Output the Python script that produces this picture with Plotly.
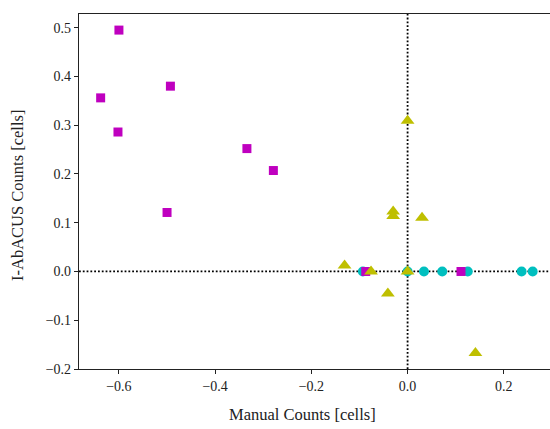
import plotly.graph_objects as go

# Magenta squares
sq_x = [-0.600, -0.638, -0.493, -0.602, -0.334, -0.279, -0.500, -0.087, 0.111]
sq_y = [0.495, 0.356, 0.380, 0.286, 0.252, 0.207, 0.121, 0.0, 0.0]

# Cyan circles
ci_x = [-0.093, 0.0, 0.034, 0.072, 0.125, 0.237, 0.260]
ci_y = [0.0, 0.0, 0.0, 0.0, 0.0, 0.0, 0.0]

# Yellow triangles
tr_x = [0.0, -0.030, -0.030, 0.030, -0.131, -0.076, 0.0, -0.041, 0.141]
tr_y = [0.309, 0.123, 0.114, 0.110, 0.012, 0.0, 0.0, -0.045, -0.167]

x_ticks = [-0.6, -0.4, -0.2, 0.0, 0.2]
y_ticks = [-0.2, -0.1, 0.0, 0.1, 0.2, 0.3, 0.4, 0.5]

x_title = "Manual Counts [cells]"
y_title = "I-AbACUS Counts [cells]"

fig = go.Figure()
fig.add_trace(go.Scatter(x=ci_x, y=ci_y, mode="markers",
                         marker=dict(symbol="circle", size=10, color="#00bfbf", line=dict(width=0))))
fig.add_trace(go.Scatter(x=sq_x, y=sq_y, mode="markers",
                         marker=dict(symbol="square", size=9, color="#bf00bf", line=dict(width=0))))
fig.add_trace(go.Scatter(x=tr_x, y=tr_y, mode="markers",
                         marker=dict(symbol="triangle-up", size=12, color="#bfbf00", line=dict(width=0))))

fig.add_hline(y=0, line=dict(color="black", width=1.8, dash="1.8px,2px"), layer="below")
fig.add_vline(x=0, line=dict(color="black", width=1.8, dash="1.8px,2px"), layer="below")

font = dict(family="Liberation Serif, Times New Roman, serif", color="#222")
W, H, L, R, T, B = 550, 429, 79, 0, 14, 60
pw, ph = W - L - R, H - T - B

fig.update_layout(
    width=W, height=H,
    margin=dict(l=L, r=R, t=T, b=B),
    paper_bgcolor="white", plot_bgcolor="white",
    showlegend=False,
    font=dict(size=14, **font),
    xaxis=dict(range=[-0.683, 0.296], tickvals=x_ticks, tickformat=".1f", automargin=False,
               showgrid=False, zeroline=False, showline=True, linecolor="#222", linewidth=1.2,
               mirror=True, ticks="outside", ticklen=4, tickcolor="#222"),
    yaxis=dict(range=[-0.2, 0.528], tickvals=y_ticks, tickformat=".1f", automargin=False,
               showgrid=False, zeroline=False, showline=True, linecolor="#222", linewidth=1.2,
               mirror=False, ticks="outside", ticklen=4, tickcolor="#222"),
    annotations=[
        dict(text=x_title, xref="paper", yref="paper", showarrow=False,
             x=(302 - L) / pw, y=-(414 - (T + ph)) / ph, xanchor="center", yanchor="middle",
             font=dict(size=16.5, **font)),
        dict(text=y_title, xref="paper", yref="paper", showarrow=False, textangle=-90,
             x=(17 - L) / pw, y=(T + ph - 196) / ph, xanchor="center", yanchor="middle",
             font=dict(size=16.5, **font)),
    ],
)

fig.write_html("out.html", config={"displayModeBar": False},
               post_script="document.body.style.margin='0';document.body.style.overflow='hidden';")
